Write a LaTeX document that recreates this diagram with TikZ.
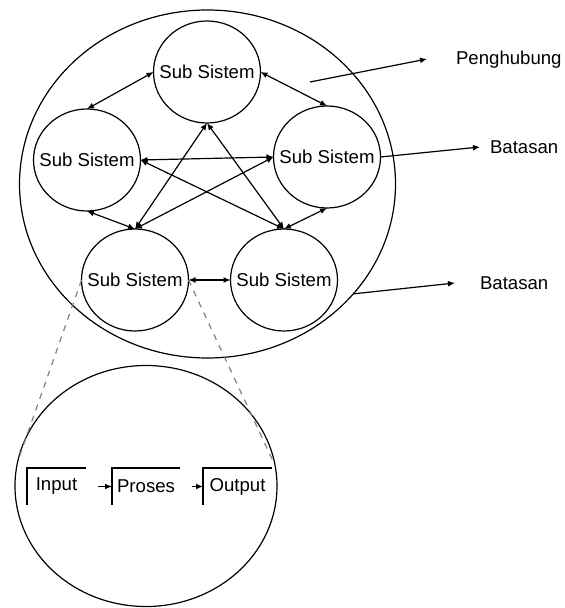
\documentclass[tikz,border=0pt]{standalone}
\usepackage{fontspec}
\setmainfont{Liberation Sans}
\usetikzlibrary{positioning,shapes.geometric,arrows.meta}

\begin{document}
\begin{tikzpicture}[
    x=0.5pt, y=-0.5pt,
    font=\fontsize{9.3}{11}\selectfont,
    sistem/.style={draw, line width=0.6pt, ellipse, inner sep=0pt, outer sep=0pt},
    subsis/.style={sistem, minimum width=53.5pt, minimum height=51pt, label=center:Sub Sistem},
    proc/.style={inner sep=0pt, outer sep=0pt, minimum height=18.5pt},
    link/.style={line width=0.6pt, {Latex[length=3.5pt,width=3pt]}-{Latex[length=3.5pt,width=3pt]}},
    flow/.style={line width=0.6pt, -{Latex[length=3.5pt,width=3pt]}},
    zoomline/.style={line width=0.6pt, dashed, gray}
  ]
    \useasboundingbox (0,0) rectangle (565,608);

    % The whole system and its sub systems.
    \node[sistem, minimum width=188pt, minimum height=174pt] at (207.5,184) (whole) {};
    \node[subsis] at (207,72) (top) {};
    \node[subsis] at (87,160) (left) {};
    \node[subsis] at (327,157) (right) {};
    \node[subsis] at (135,280) (botleft) {};
    \node[subsis] at (284,280) (botright) {};

    % Links between every pair of sub systems.
    \draw[link] (top.west) -- (left.north);
    \draw[link] (top.east) -- (right.north);
    \draw[link] (top.south) -- (botleft.north);
    \draw[link] (top.south) -- (botright.north);
    \draw[link] (left.east) -- (right.west);
    \draw[link] (left.east) -- (botright.north);
    \draw[link] (botleft.north) -- (right.west);
    \draw[link] (left.south) -- (botleft.north);
    \draw[link] (right.south) -- (botright.north);
    \draw[link] (botleft.east) -- (botright.west);

    % Labels on the right.
    \node[anchor=west] at (449,60) (penghubung) {Penghubung};
    \node[anchor=west] at (483,147) (batasan1) {Batasan};
    \node[anchor=west] at (473,283) (batasan2) {Batasan};
    \coordinate (linkmark) at (310,82);
    \draw[flow] (linkmark) -- ([xshift=-11pt,yshift=0.5pt]penghubung.west);
    \draw[flow] (right.east) -- ([xshift=-1.5pt]batasan1.west);
    \draw[flow] (whole.-37.5) -- ([xshift=-9pt]batasan2.west);

    % Inside one sub system.
    \node[sistem, minimum width=131pt, minimum height=120.5pt] at (146,486) (inside) {};
    \draw[zoomline] (botleft.west) -- (inside.169);
    \draw[zoomline] (botleft.east) -- (inside.9);

    \node[proc, minimum width=29.5pt] at (56.5,486.5) (input) {Input};
    \node[proc, minimum width=34pt] at (146,486.5) (proses) {Proses};
    \node[proc, minimum width=34.5pt] at (237.5,486.5) (output) {Output};
    \foreach \p in {input,proses,output}
      \draw[line width=0.6pt] (\p.south west) |- (\p.north east);
    \draw[flow, shorten <=6pt] (input.east) -- (proses.west);
    \draw[flow, shorten <=6pt] (proses.east) -- (output.west);
\end{tikzpicture}
\end{document}
